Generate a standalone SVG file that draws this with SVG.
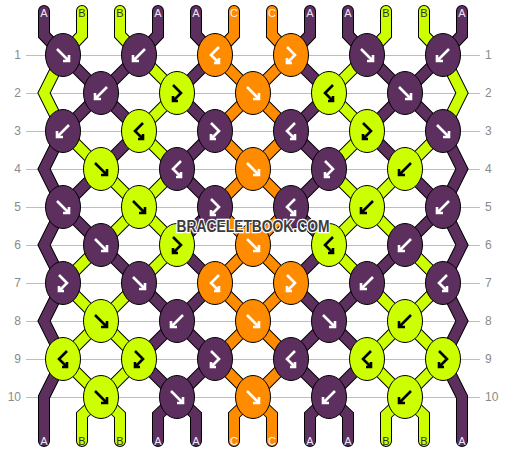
<svg xmlns="http://www.w3.org/2000/svg" xmlns:xlink="http://www.w3.org/1999/xlink" width="506" height="452" viewBox="0 0 506 452">
<style>
.grid{stroke:#bdbdbd;stroke-width:1}
.num{font-family:"Liberation Sans",Arial,sans-serif;font-size:12px;fill:#8a8a8a}
.out{fill:none;stroke:#000;stroke-width:12;stroke-linecap:round;stroke-linejoin:miter}
.tP,.tL,.tO{fill:none;stroke-width:10;stroke-linecap:round;stroke-linejoin:miter}
.tP{stroke:#5c2f5e}.tL{stroke:#ccff00}.tO{stroke:#ff8c00}
ellipse{stroke:#000;stroke-width:1}
.P{fill:#5c2f5e}.L{fill:#ccff00}.O{fill:#ff8c00}
.gw,.gb{fill:none;stroke-width:2.6;stroke-linecap:butt;stroke-linejoin:miter}
.gw{stroke:#fff}.gb{stroke:#000}
.lab{font-family:"Liberation Sans",Arial,sans-serif;font-size:11px;text-anchor:middle}
.la{fill:#f0e6f4}.lb{fill:#333}.lc{fill:#fff6e8}
.wm{font-family:"Liberation Sans",Arial,sans-serif;font-weight:bold;font-size:16px;fill:#3c3c3c;stroke:#fff;stroke-width:2.5;paint-order:stroke;text-anchor:middle}
</style>
<defs>
<path id="fwd" d="M-6,-6 L6,6 M6,0 L6,6 L0,6"/>
<path id="bwd" d="M6,-6 L-6,6 M-6,0 L-6,6 L0,6"/>
<path id="fb" d="M-4,-8 L4,0 L-4,8 M-4,3 L-4,8 L1,8"/>
<path id="bf" d="M4,-8 L-4,0 L4,8 M4,3 L4,8 L-1,8"/>
<path id="segP" d="M44 11V35L63 55M158 11V35L139 55M196 11V35L215 55M310 11V35L291 55M348 11V35L367 55M462 11V35L443 55
M63 55L101 93M139 55L101 93M215 55L177 93M291 55L329 93M367 55L405 93M443 55L405 93
M101 93L63 131M101 93L139 131M177 93L215 131M329 93L291 131M405 93L367 131M405 93L443 131
M139 131L101 169M215 131L177 169M291 131L329 169M367 131L405 169
M101 169L63 207M177 169L215 207M329 169L291 207M405 169L443 207
M63 207L101 245M215 207L177 245M291 207L329 245M443 207L405 245
M101 245L139 283M177 245L215 283M329 245L291 283M405 245L367 283
M139 283L177 321M215 283L177 321M291 283L329 321M367 283L329 321
M177 321L139 359M177 321L215 359M329 321L291 359M329 321L367 359
M139 359L177 397M215 359L177 397M291 359L329 397M367 359L329 397
M63 131L44 169L63 207M443 131L462 169L443 207M63 207L44 245L63 283M443 207L462 245L443 283
M63 283L44 321L63 359M443 283L462 321L443 359M63 359L44 397L44 441M443 359L462 397L462 441
M177 397L158 415V441M177 397L196 415V441M329 397L310 415V441M329 397L348 415V441"/>
<path id="segL" d="M82 11V35L63 55M120 11V35L139 55M386 11V35L367 55M424 11V35L443 55
M139 55L177 93M367 55L329 93
M177 93L139 131M329 93L367 131
M63 131L101 169M139 131L177 169M367 131L329 169M443 131L405 169
M101 169L139 207M177 169L139 207M329 169L367 207M405 169L367 207
M139 207L101 245M139 207L177 245M367 207L329 245M367 207L405 245
M101 245L63 283M177 245L139 283M329 245L367 283M405 245L443 283
M63 283L101 321M139 283L101 321M367 283L405 321M443 283L405 321
M101 321L63 359M101 321L139 359M405 321L367 359M405 321L443 359
M63 359L101 397M139 359L101 397M367 359L405 397M443 359L405 397
M63 55L44 93L63 131M443 55L462 93L443 131
M101 397L82 415V441M101 397L120 415V441M405 397L386 415V441M405 397L424 415V441"/>
<path id="segO" d="M234 11V35L215 55M272 11V35L291 55
M215 55L253 93M291 55L253 93M253 93L215 131M253 93L291 131
M215 131L253 169M291 131L253 169M253 169L215 207M253 169L291 207
M215 207L253 245M291 207L253 245M253 245L215 283M253 245L291 283
M215 283L253 321M291 283L253 321M253 321L215 359M253 321L291 359
M215 359L253 397M291 359L253 397
M253 397L234 415V441M253 397L272 415V441"/>
</defs>
<rect width="506" height="452" fill="#fff"/>
<g id="grid">
<path class="grid" d="M26 55.5H480M26 93.5H480M26 131.5H480M26 169.5H480M26 207.5H480M26 245.5H480M26 283.5H480M26 321.5H480M26 359.5H480M26 397.5H480"/>
<g class="num" text-anchor="end">
<text x="21" y="59">1</text><text x="21" y="97">2</text><text x="21" y="135">3</text><text x="21" y="173">4</text><text x="21" y="211">5</text><text x="21" y="249">6</text><text x="21" y="287">7</text><text x="21" y="325">8</text><text x="21" y="363">9</text><text x="21" y="401">10</text>
</g>
<g class="num">
<text x="485" y="59">1</text><text x="485" y="97">2</text><text x="485" y="135">3</text><text x="485" y="173">4</text><text x="485" y="211">5</text><text x="485" y="249">6</text><text x="485" y="287">7</text><text x="485" y="325">8</text><text x="485" y="363">9</text><text x="485" y="401">10</text>
</g>
</g>
<g id="connectors">
<g class="out"><use href="#segP"/><use href="#segL"/><use href="#segO"/></g>
<use href="#segP" class="tP"/>
<use href="#segL" class="tL"/>
<use href="#segO" class="tO"/>
</g>
<g id="labels" class="lab">
<text class="la" x="44" y="17">A</text><text class="lb" x="82" y="17">B</text><text class="lb" x="120" y="17">B</text><text class="la" x="158" y="17">A</text><text class="la" x="196" y="17">A</text><text class="lc" x="234" y="17">C</text><text class="lc" x="272" y="17">C</text><text class="la" x="310" y="17">A</text><text class="la" x="348" y="17">A</text><text class="lb" x="386" y="17">B</text><text class="lb" x="424" y="17">B</text><text class="la" x="462" y="17">A</text>
<text class="la" x="44" y="445">A</text><text class="lb" x="82" y="445">B</text><text class="lb" x="120" y="445">B</text><text class="la" x="158" y="445">A</text><text class="la" x="196" y="445">A</text><text class="lc" x="234" y="445">C</text><text class="lc" x="272" y="445">C</text><text class="la" x="310" y="445">A</text><text class="la" x="348" y="445">A</text><text class="lb" x="386" y="445">B</text><text class="lb" x="424" y="445">B</text><text class="la" x="462" y="445">A</text>
</g>
<g id="knots">
<g id="k1-1" transform="translate(63,55)"><ellipse class="P" rx="17.5" ry="21.5"/><use href="#fwd" class="gw"/></g>
<g id="k1-2" transform="translate(139,55)"><ellipse class="P" rx="17.5" ry="21.5"/><use href="#bwd" class="gw"/></g>
<g id="k1-3" transform="translate(215,55)"><ellipse class="O" rx="17.5" ry="21.5"/><use href="#bf" class="gw"/></g>
<g id="k1-4" transform="translate(291,55)"><ellipse class="O" rx="17.5" ry="21.5"/><use href="#fb" class="gw"/></g>
<g id="k1-5" transform="translate(367,55)"><ellipse class="P" rx="17.5" ry="21.5"/><use href="#fwd" class="gw"/></g>
<g id="k1-6" transform="translate(443,55)"><ellipse class="P" rx="17.5" ry="21.5"/><use href="#bwd" class="gw"/></g>

<g id="k2-1" transform="translate(101,93)"><ellipse class="P" rx="17.5" ry="21.5"/><use href="#bwd" class="gw"/></g>
<g id="k2-2" transform="translate(177,93)"><ellipse class="L" rx="17.5" ry="21.5"/><use href="#fb" class="gb"/></g>
<g id="k2-3" transform="translate(253,93)"><ellipse class="O" rx="17.5" ry="21.5"/><use href="#fwd" class="gw"/></g>
<g id="k2-4" transform="translate(329,93)"><ellipse class="L" rx="17.5" ry="21.5"/><use href="#bf" class="gb"/></g>
<g id="k2-5" transform="translate(405,93)"><ellipse class="P" rx="17.5" ry="21.5"/><use href="#fwd" class="gw"/></g>

<g id="k3-1" transform="translate(63,131)"><ellipse class="P" rx="17.5" ry="21.5"/><use href="#bwd" class="gw"/></g>
<g id="k3-2" transform="translate(139,131)"><ellipse class="L" rx="17.5" ry="21.5"/><use href="#bf" class="gb"/></g>
<g id="k3-3" transform="translate(215,131)"><ellipse class="P" rx="17.5" ry="21.5"/><use href="#fb" class="gw"/></g>
<g id="k3-4" transform="translate(291,131)"><ellipse class="P" rx="17.5" ry="21.5"/><use href="#bf" class="gw"/></g>
<g id="k3-5" transform="translate(367,131)"><ellipse class="L" rx="17.5" ry="21.5"/><use href="#fb" class="gb"/></g>
<g id="k3-6" transform="translate(443,131)"><ellipse class="P" rx="17.5" ry="21.5"/><use href="#fwd" class="gw"/></g>

<g id="k4-1" transform="translate(101,169)"><ellipse class="L" rx="17.5" ry="21.5"/><use href="#fwd" class="gb"/></g>
<g id="k4-2" transform="translate(177,169)"><ellipse class="P" rx="17.5" ry="21.5"/><use href="#bf" class="gw"/></g>
<g id="k4-3" transform="translate(253,169)"><ellipse class="O" rx="17.5" ry="21.5"/><use href="#fwd" class="gw"/></g>
<g id="k4-4" transform="translate(329,169)"><ellipse class="P" rx="17.5" ry="21.5"/><use href="#fb" class="gw"/></g>
<g id="k4-5" transform="translate(405,169)"><ellipse class="L" rx="17.5" ry="21.5"/><use href="#bwd" class="gb"/></g>

<g id="k5-1" transform="translate(63,207)"><ellipse class="P" rx="17.5" ry="21.5"/><use href="#fwd" class="gw"/></g>
<g id="k5-2" transform="translate(139,207)"><ellipse class="L" rx="17.5" ry="21.5"/><use href="#fwd" class="gb"/></g>
<g id="k5-3" transform="translate(215,207)"><ellipse class="P" rx="17.5" ry="21.5"/><use href="#fb" class="gw"/></g>
<g id="k5-4" transform="translate(291,207)"><ellipse class="P" rx="17.5" ry="21.5"/><use href="#bf" class="gw"/></g>
<g id="k5-5" transform="translate(367,207)"><ellipse class="L" rx="17.5" ry="21.5"/><use href="#bwd" class="gb"/></g>
<g id="k5-6" transform="translate(443,207)"><ellipse class="P" rx="17.5" ry="21.5"/><use href="#bwd" class="gw"/></g>

<g id="k6-1" transform="translate(101,245)"><ellipse class="P" rx="17.5" ry="21.5"/><use href="#fwd" class="gw"/></g>
<g id="k6-2" transform="translate(177,245)"><ellipse class="L" rx="17.5" ry="21.5"/><use href="#fb" class="gb"/></g>
<g id="k6-3" transform="translate(253,245)"><ellipse class="O" rx="17.5" ry="21.5"/><use href="#fwd" class="gw"/></g>
<g id="k6-4" transform="translate(329,245)"><ellipse class="L" rx="17.5" ry="21.5"/><use href="#bf" class="gb"/></g>
<g id="k6-5" transform="translate(405,245)"><ellipse class="P" rx="17.5" ry="21.5"/><use href="#bwd" class="gw"/></g>

<g id="k7-1" transform="translate(63,283)"><ellipse class="P" rx="17.5" ry="21.5"/><use href="#fb" class="gw"/></g>
<g id="k7-2" transform="translate(139,283)"><ellipse class="P" rx="17.5" ry="21.5"/><use href="#fwd" class="gw"/></g>
<g id="k7-3" transform="translate(215,283)"><ellipse class="O" rx="17.5" ry="21.5"/><use href="#bf" class="gw"/></g>
<g id="k7-4" transform="translate(291,283)"><ellipse class="O" rx="17.5" ry="21.5"/><use href="#fb" class="gw"/></g>
<g id="k7-5" transform="translate(367,283)"><ellipse class="P" rx="17.5" ry="21.5"/><use href="#bwd" class="gw"/></g>
<g id="k7-6" transform="translate(443,283)"><ellipse class="P" rx="17.5" ry="21.5"/><use href="#bf" class="gw"/></g>

<g id="k8-1" transform="translate(101,321)"><ellipse class="L" rx="17.5" ry="21.5"/><use href="#fwd" class="gb"/></g>
<g id="k8-2" transform="translate(177,321)"><ellipse class="P" rx="17.5" ry="21.5"/><use href="#bwd" class="gw"/></g>
<g id="k8-3" transform="translate(253,321)"><ellipse class="O" rx="17.5" ry="21.5"/><use href="#fwd" class="gw"/></g>
<g id="k8-4" transform="translate(329,321)"><ellipse class="P" rx="17.5" ry="21.5"/><use href="#fwd" class="gw"/></g>
<g id="k8-5" transform="translate(405,321)"><ellipse class="L" rx="17.5" ry="21.5"/><use href="#bwd" class="gb"/></g>

<g id="k9-1" transform="translate(63,359)"><ellipse class="L" rx="17.5" ry="21.5"/><use href="#bf" class="gb"/></g>
<g id="k9-2" transform="translate(139,359)"><ellipse class="L" rx="17.5" ry="21.5"/><use href="#fb" class="gb"/></g>
<g id="k9-3" transform="translate(215,359)"><ellipse class="P" rx="17.5" ry="21.5"/><use href="#fb" class="gw"/></g>
<g id="k9-4" transform="translate(291,359)"><ellipse class="P" rx="17.5" ry="21.5"/><use href="#bf" class="gw"/></g>
<g id="k9-5" transform="translate(367,359)"><ellipse class="L" rx="17.5" ry="21.5"/><use href="#bf" class="gb"/></g>
<g id="k9-6" transform="translate(443,359)"><ellipse class="L" rx="17.5" ry="21.5"/><use href="#fb" class="gb"/></g>

<g id="k10-1" transform="translate(101,397)"><ellipse class="L" rx="17.5" ry="21.5"/><use href="#fwd" class="gb"/></g>
<g id="k10-2" transform="translate(177,397)"><ellipse class="P" rx="17.5" ry="21.5"/><use href="#fwd" class="gw"/></g>
<g id="k10-3" transform="translate(253,397)"><ellipse class="O" rx="17.5" ry="21.5"/><use href="#fwd" class="gw"/></g>
<g id="k10-4" transform="translate(329,397)"><ellipse class="P" rx="17.5" ry="21.5"/><use href="#bwd" class="gw"/></g>
<g id="k10-5" transform="translate(405,397)"><ellipse class="L" rx="17.5" ry="21.5"/><use href="#bwd" class="gb"/></g>
</g>
<text class="wm" x="253" y="232" textLength="153" lengthAdjust="spacingAndGlyphs">BRACELETBOOK.COM</text>
</svg>
